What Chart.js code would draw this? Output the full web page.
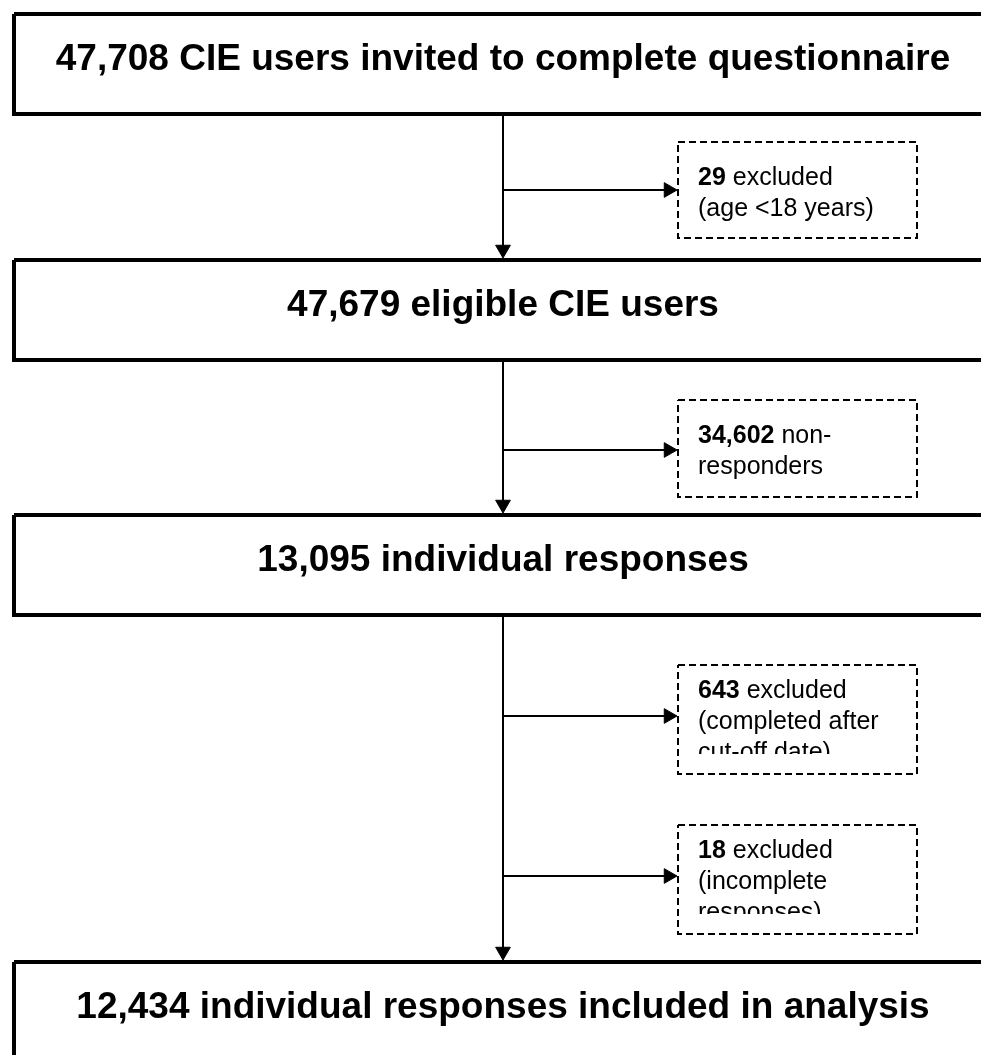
<!DOCTYPE html>
<html lang="en">
<head>
    <meta charset="UTF-8">
    <title>CIE questionnaire flow</title>
    <style>
        body {
            margin: 0;
            background-color: #fff;
        }
        #wrap {
            width: 981px;
            height: 1055px;
        }
    </style>
    <script src="https://cdn.jsdelivr.net/npm/chart.js"></script>
</head>
<body>
    <div id="wrap">
        <canvas id="flowChart" width="981" height="1055"></canvas>
    </div>

    <script>
        // Flow data
        const stageCounts = [47708, 47679, 13095, 12434];
        const stageLabels = [
            'CIE users invited to complete questionnaire',
            'eligible CIE users',
            'individual responses',
            'individual responses included in analysis'
        ];
        const excludedCounts = [29, 34602, 643, 18];
        const excludedText = [
            [' excluded', '(age <18 years)'],
            [' non-', 'responders'],
            [' excluded', '(completed after', 'cut-off date)'],
            [' excluded', '(incomplete', 'responses)']
        ];

        // Layout (in scale units = pixels)
        const layout = {
            spineX: 503,
            boxLeft: 14,
            boxRight: 995,
            stageTop: [12, 258, 513, 960],
            stageHeight: 104,
            sideLeft: 678,
            sideRight: 917,
            sideTop: [142, 400, 665, 825],
            sideBottom: [238, 497, 774, 934],
            branchY: [190, 450, 716, 876],
            textBaseline: 58,
            sideFirstLine: [43, 43, 33, 33],
            sideLineHeight: 31,
            arrowR: 8.5
        };

        const fmt = n => n.toLocaleString('en-US');
        const FONT = "'Liberation Sans', Arial, sans-serif";

        const datasets = [];

        // main boxes (border line centred 2px inside outer edge)
        layout.stageTop.forEach(top => {
            const t = top + 2, b = top + layout.stageHeight - 2;
            datasets.push({
                data: [
                    { x: layout.boxLeft, y: t }, { x: layout.boxRight, y: t },
                    { x: layout.boxRight, y: b }, { x: layout.boxLeft, y: b },
                    { x: layout.boxLeft, y: t }
                ],
                showLine: true, borderColor: '#000', borderWidth: 4,
                borderJoinStyle: 'miter', pointRadius: 0
            });
        });

        // dashed exclusion boxes
        layout.sideTop.forEach((t, i) => {
            const b = layout.sideBottom[i];
            datasets.push({
                data: [
                    { x: layout.sideLeft, y: t }, { x: layout.sideRight, y: t },
                    { x: layout.sideRight, y: b }, { x: layout.sideLeft, y: b },
                    { x: layout.sideLeft, y: t }
                ],
                showLine: true, borderColor: '#000', borderWidth: 2,
                borderDash: [7, 4], borderJoinStyle: 'miter', pointRadius: 0
            });
        });

        // vertical connectors between stages
        const downTips = [];
        for (let i = 0; i < stageCounts.length - 1; i++) {
            const from = layout.stageTop[i] + layout.stageHeight;
            const to = layout.stageTop[i + 1];
            datasets.push({
                data: [{ x: layout.spineX, y: from }, { x: layout.spineX, y: to - 6 }],
                showLine: true, borderColor: '#000', borderWidth: 2, pointRadius: 0
            });
            downTips.push({ x: layout.spineX, y: to - layout.arrowR });
        }

        // branch arrows to exclusion boxes
        const rightTips = [];
        layout.branchY.forEach(y => {
            datasets.push({
                data: [{ x: layout.spineX, y: y }, { x: layout.sideLeft - 6, y: y }],
                showLine: true, borderColor: '#000', borderWidth: 2, pointRadius: 0
            });
            rightTips.push({ x: layout.sideLeft - 1 - layout.arrowR, y: y });
        });

        datasets.push({
            data: downTips, showLine: false, pointStyle: 'triangle',
            pointRadius: layout.arrowR, pointRotation: 180,
            pointBackgroundColor: '#000', pointBorderColor: '#000', pointBorderWidth: 1
        });
        datasets.push({
            data: rightTips, showLine: false, pointStyle: 'triangle',
            pointRadius: layout.arrowR, pointRotation: 90,
            pointBackgroundColor: '#000', pointBorderColor: '#000', pointBorderWidth: 1
        });

        // text labels drawn on top
        const boxText = {
            id: 'boxText',
            afterDatasetsDraw(chart) {
                const ctx = chart.ctx;
                const xs = chart.scales.x, ys = chart.scales.y;
                ctx.save();
                ctx.fillStyle = '#000';
                ctx.textBaseline = 'alphabetic';

                ctx.font = 'bold 37px ' + FONT;
                ctx.textAlign = 'center';
                stageCounts.forEach((n, i) => {
                    ctx.fillText(fmt(n) + ' ' + stageLabels[i],
                        xs.getPixelForValue(layout.spineX),
                        ys.getPixelForValue(layout.stageTop[i] + layout.textBaseline));
                });

                ctx.textAlign = 'left';
                excludedCounts.forEach((n, i) => {
                    ctx.save();
                    const lines = excludedText[i];
                    if (lines.length > 2) {
                        // overflowing text gets cut like in the original text frame
                        const left = xs.getPixelForValue(layout.sideLeft);
                        const top = ys.getPixelForValue(layout.sideTop[i]);
                        const clipB = ys.getPixelForValue(layout.sideBottom[i] - 20);
                        ctx.beginPath();
                        ctx.rect(left, top, xs.getPixelForValue(layout.sideRight) - left, clipB - top);
                        ctx.clip();
                    }
                    const x0 = xs.getPixelForValue(layout.sideLeft + 20);
                    let y = ys.getPixelForValue(layout.sideTop[i] + layout.sideFirstLine[i]);
                    ctx.font = 'bold 25px ' + FONT;
                    const bold = fmt(n);
                    ctx.fillText(bold, x0, y);
                    const w = ctx.measureText(bold).width;
                    ctx.font = '25px ' + FONT;
                    ctx.fillText(lines[0], x0 + w, y);
                    for (let k = 1; k < lines.length; k++) {
                        y += layout.sideLineHeight;
                        ctx.fillText(lines[k], x0, y);
                    }
                    ctx.restore();
                });
                ctx.restore();
            }
        };

        new Chart(document.getElementById('flowChart').getContext('2d'), {
            type: 'scatter',
            data: { datasets: datasets },
            options: {
                responsive: false,
                animation: false,
                devicePixelRatio: 1,
                layout: { padding: 0, autoPadding: false },
                scales: {
                    x: { type: 'linear', min: 0, max: 981, display: false },
                    y: { type: 'linear', min: 0, max: 1055, reverse: true, display: false }
                },
                plugins: {
                    legend: { display: false },
                    tooltip: { enabled: false }
                }
            },
            plugins: [boxText]
        });
    </script>
</body>
</html>
